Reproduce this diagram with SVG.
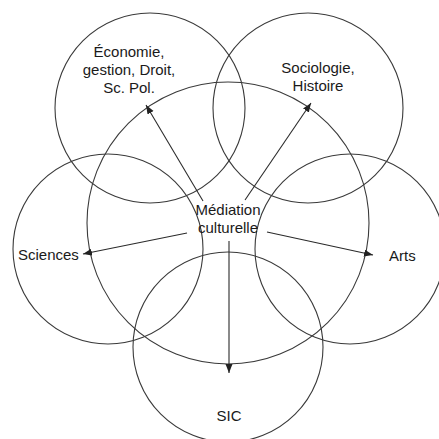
<svg xmlns="http://www.w3.org/2000/svg" width="439" height="439" viewBox="0 0 439 439">
  <defs>
    <marker id="arrow" markerUnits="userSpaceOnUse" markerWidth="10" markerHeight="8" refX="9" refY="3.5" orient="auto">
      <path d="M0,0 L9,3.5 L0,7 z" fill="#222"/>
    </marker>
    <style>
      .circ { fill: none; stroke: #3a3a3a; stroke-width: 1.1; }
      .conn { stroke: #2a2a2a; stroke-width: 1.1; fill: none; marker-end: url(#arrow); }
      text { font-family: "Liberation Sans", Arial, sans-serif; font-size: 15px; fill: #1a1a1a; }
      .c { text-anchor: middle; }
    </style>
  </defs>
  <rect width="439" height="439" fill="#ffffff"/>
  <g id="economie">
    <circle class="circ" cx="150" cy="108" r="95"/>
    <text class="c" x="129" y="57">Économie,</text>
    <text class="c" x="129" y="75">gestion, Droit,</text>
    <text class="c" x="129" y="93">Sc. Pol.</text>
  </g>
  <g id="sociologie">
    <circle class="circ" cx="308" cy="108" r="95"/>
    <text class="c" x="318" y="73">Sociologie,</text>
    <text class="c" x="318" y="91">Histoire</text>
  </g>
  <g id="sciences">
    <circle class="circ" cx="108" cy="249" r="95"/>
    <text x="18" y="260">Sciences</text>
  </g>
  <g id="arts">
    <circle class="circ" cx="350" cy="249" r="95"/>
    <text x="389" y="261">Arts</text>
  </g>
  <g id="sic">
    <circle class="circ" cx="228" cy="347" r="95"/>
    <text class="c" x="229" y="421">SIC</text>
  </g>
  <g id="mediation">
    <circle class="circ" cx="228" cy="223" r="141"/>
    <text class="c" x="228" y="215">Médiation</text>
    <text class="c" x="228" y="233">culturelle</text>
  </g>
  <g id="connectors">
    <line class="conn" x1="203" y1="201" x2="146" y2="105"/>
    <line class="conn" x1="245" y1="200" x2="311" y2="103"/>
    <line class="conn" x1="187" y1="233" x2="83" y2="254"/>
    <line class="conn" x1="267" y1="232" x2="373" y2="255"/>
    <line class="conn" x1="229" y1="241" x2="229" y2="373"/>
  </g>
</svg>
